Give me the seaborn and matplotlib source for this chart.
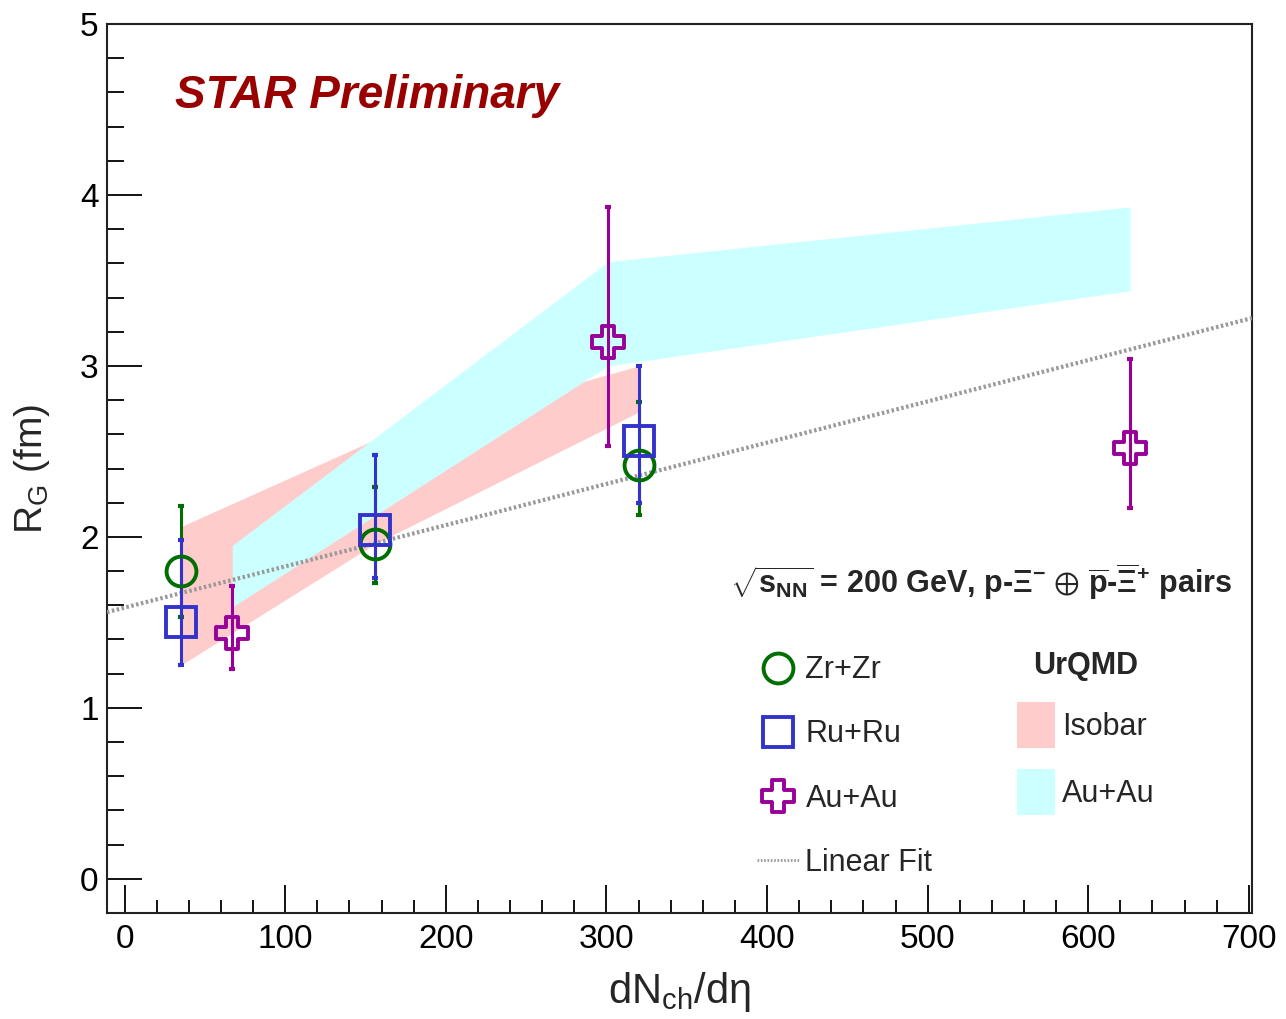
import numpy as np
import matplotlib
matplotlib.use('Agg')
import matplotlib.pyplot as plt
import seaborn as sns
from matplotlib.path import Path
from matplotlib.lines import Line2D
from matplotlib.patches import Patch
from matplotlib.ticker import MultipleLocator

# data
zr_x = [35, 156, 320]
zr_y = [1.80, 1.96, 2.42]
zr_lo = [1.53, 1.73, 2.13]
zr_hi = [2.18, 2.29, 2.79]

ru_x = [35, 156, 320]
ru_y = [1.50, 2.04, 2.56]
ru_lo = [1.25, 1.76, 2.20]
ru_hi = [1.98, 2.48, 3.00]

au_x = [67, 301, 626]
au_y = [1.44, 3.14, 2.52]
au_lo = [1.23, 2.53, 2.17]
au_hi = [1.71, 3.93, 3.04]

# UrQMD bands
iso_band_x = [35, 156, 320]
iso_band_lo = [1.25, 1.96, 2.73]
iso_band_hi = [2.06, 2.57, 3.00]

au_band_x = [67, 301, 626]
au_band_lo = [1.59, 3.00, 3.44]
au_band_hi = [1.95, 3.61, 3.93]

# linear fit line (end points across the frame)
fit_x = [-11, 702]
fit_y = [1.56, 3.28]

sns.set_style('ticks')
plt.rcParams['font.family'] = ['Liberation Sans', 'DejaVu Sans']
plt.rcParams['mathtext.fontset'] = 'custom'
plt.rcParams['mathtext.rm'] = 'Liberation Sans'
plt.rcParams['mathtext.it'] = 'Liberation Sans:italic'
plt.rcParams['mathtext.bf'] = 'Liberation Sans:bold'
plt.rcParams['mathtext.default'] = 'regular'

green = '#006e00'
blue = '#3333cc'
purple = '#990099'
pink = '#ffcccc'
cyan = '#ccffff'

a, b = 0.19, 0.5
cross = Path([(-a, -b), (a, -b), (a, -a), (b, -a), (b, a), (a, a), (a, b),
              (-a, b), (-a, a), (-b, a), (-b, -a), (-a, -a), (-a, -b)],
             closed=True)

fig = plt.figure(figsize=(12.86, 10.19), dpi=100)
ax = fig.add_axes([0.0832, 0.104, 0.8904, 0.8724])

ax.fill_between(iso_band_x, iso_band_lo, iso_band_hi, color=pink, lw=0, zorder=1)
ax.fill_between(au_band_x, au_band_lo, au_band_hi, color=cyan, lw=0, zorder=2)

sns.lineplot(x=fit_x, y=fit_y, ax=ax, color='#999999', lw=3,
             linestyle=(0, (0.6, 0.6)), zorder=3)

def draw(xs, ys, lo, hi, color, marker, ms):
    yerr = [np.array(ys) - np.array(lo), np.array(hi) - np.array(ys)]
    ax.errorbar(xs, ys, yerr=yerr, fmt='none', ecolor=color, elinewidth=2.2,
                capsize=2.5, capthick=3, zorder=4)
    ax.plot(xs, ys, ls='none', marker=marker, ms=ms, mfc='none', mec=color,
            mew=2.8, zorder=5)

draw(zr_x, zr_y, zr_lo, zr_hi, green, 'o', 21.5)
draw(ru_x, ru_y, ru_lo, ru_hi, blue, 's', 21.5)
draw(au_x, au_y, au_lo, au_hi, purple, cross, 23)

ax.set_xlim(-11, 702)
ax.set_ylim(-0.2, 5)
ax.xaxis.set_major_locator(MultipleLocator(100))
ax.xaxis.set_minor_locator(MultipleLocator(20))
ax.yaxis.set_major_locator(MultipleLocator(1))
ax.yaxis.set_minor_locator(MultipleLocator(0.2))
ax.tick_params(axis='both', which='both', direction='in', width=1.3,
               colors='black', labelsize=24)
ax.tick_params(axis='y', which='major', length=25, pad=6)
ax.tick_params(axis='y', which='minor', length=12.5)
ax.tick_params(axis='x', which='major', length=20, pad=8)
ax.tick_params(axis='x', which='minor', length=9.5)
for s in ax.spines.values():
    s.set_linewidth(1.5)
    s.set_color('#222222')

ax.set_xlabel(r'dN$_{ch}$/d$\eta$', fontsize=30)
ax.xaxis.label.set_va('baseline')
ax.xaxis.set_label_coords(0.5, -0.101)
ax.set_ylabel(r'R$_{G}$ (fm)', fontsize=28)
ax.yaxis.set_label_coords(-0.048, 0.500)

ax.text(0.0594, 0.919, 'STAR Preliminary', transform=ax.transAxes,
        fontsize=33, fontweight='bold', fontstyle='italic', color='#990000',
        va='center', ha='left')

ax.text(0.544, 0.372,
        r'$\sqrt{\mathbf{s_{NN}}}$ = 200 GeV, p-$\Xi^{-}$ $\oplus$ $\overline{p}$-$\overline{\Xi}^{+}$ pairs',
        transform=ax.transAxes, fontsize=22, fontweight='bold',
        va='center', ha='left')

h1 = [
    Line2D([], [], ls='none', marker='o', ms=21.5, mfc='none', mec=green, mew=2.8),
    Line2D([], [], ls='none', marker='s', ms=21.5, mfc='none', mec=blue, mew=2.8),
    Line2D([], [], ls='none', marker=cross, ms=23, mfc='none', mec=purple, mew=2.8),
    Line2D([], [], color='#999999', lw=2, linestyle=(0, (0.6, 0.6))),
]
leg1 = ax.legend(h1, ['Zr+Zr', 'Ru+Ru', 'Au+Au', 'Linear Fit'],
                 loc='upper left', bbox_to_anchor=(0.5673, 0.290),
                 frameon=False, fontsize=22, borderpad=0, borderaxespad=0,
                 handlelength=1.4, handletextpad=0.2, labelspacing=1.12)
ax.add_artist(leg1)

h2 = [Patch(facecolor=pink, edgecolor='none'), Patch(facecolor=cyan, edgecolor='none')]
leg2 = ax.legend(h2, ['Isobar', 'Au+Au'], title='UrQMD',
                 loc='upper left', bbox_to_anchor=(0.7948, 0.2947),
                 frameon=False, fontsize=22, borderpad=0, borderaxespad=0,
                 handlelength=1.25, handleheight=1.93, handletextpad=0.23,
                 labelspacing=0.69,
                 title_fontproperties={'size': 22, 'weight': 'bold'})

fig.savefig('out.png', dpi=100)
